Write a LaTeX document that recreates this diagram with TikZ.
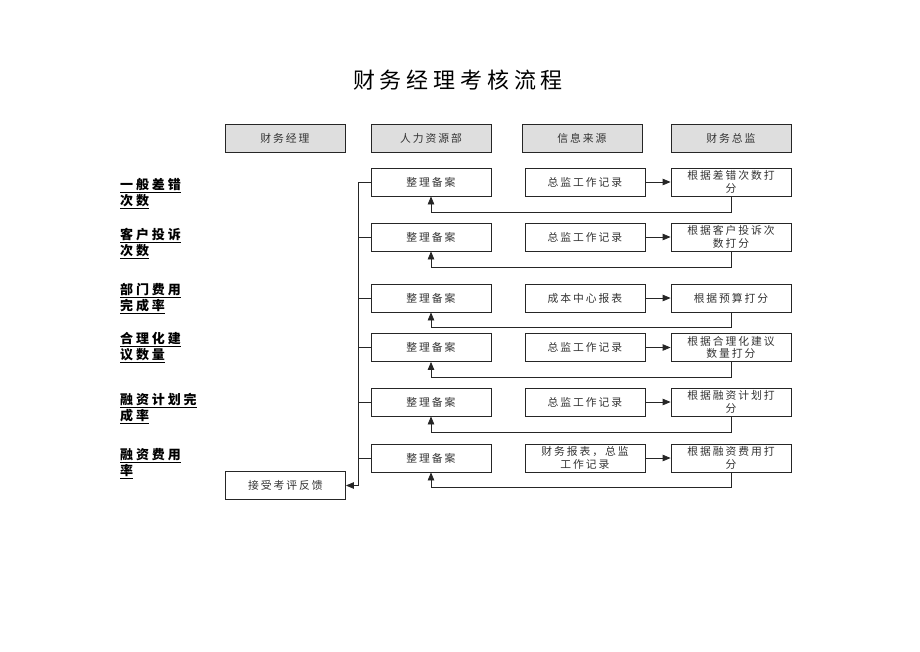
\documentclass[tikz,border=0pt]{standalone}
\usepackage{fontspec}
\usetikzlibrary{arrows.meta}
\setmainfont{Noto Sans CJK SC}[LetterSpace=18]
\newfontfamily\titlefont{Noto Sans CJK SC}[LetterSpace=22]
\newfontfamily\labelfont{Noto Sans CJK SC}[LetterSpace=22]
\begin{document}
\begin{tikzpicture}[x=1pt,y=-1pt,
  box/.style={draw=black!85,line width=0.8pt,minimum width=120pt,minimum height=28pt,inner sep=0pt,align=center,font=\fontsize{10.8}{12.5}\selectfont,text=black!80},
  head/.style={box,fill=black!13},
  lbl/.style={anchor=west,align=left,inner sep=0pt,font=\labelfont\bfseries\fontsize{13}{16}\selectfont},
  ln/.style={line width=0.8pt,black!85},
  arr/.style={ln,-{Triangle[length=8pt,width=6.5pt]}}]
\useasboundingbox (0,0) rectangle (920,651);
\node[font=\titlefont\fontsize{22}{24}\selectfont] (title) at (458,80) {财务经理考核流程};
% headers
\node[head] (h1) at (285,138) {财务经理};
\node[head] (h2) at (431,138) {人力资源部};
\node[head] (h3) at (582,138) {信息来源};
\node[head] (h4) at (731,138) {财务总监};
% rows
\foreach \i/\y/\src/\dst/\fy in {
  1/182/{总监工作记录}/{根据差错次数打\\分}/212,
  2/237/{总监工作记录}/{根据客户投诉次\\数打分}/267,
  3/298/{成本中心报表}/{根据预算打分}/327,
  4/347.5/{总监工作记录}/{根据合理化建议\\数量打分}/377,
  5/402/{总监工作记录}/{根据融资计划打\\分}/432,
  6/458/{财务报表，总监\\工作记录}/{根据融资费用打\\分}/487}{
  \node[box] (a\i) at (431,\y) {整理备案};
  \node[box] (b\i) at (585,\y) {\src};
  \node[box] (c\i) at (731,\y) {\dst};
  \draw[arr] (b\i.east) -- (c\i.west);
  \coordinate (f\i) at (731,\fy);
  \draw[arr] (c\i.south) -- (f\i) -| (a\i.south);
  \coordinate (s\i) at (358,\y);
  \draw[ln] (s\i) -- (a\i.west);
}
\node[box] (fb) at (285.5,485.5) {接受考评反馈};
\draw[ln] (s1) -- (358,485.5) coordinate (corner);
\draw[arr] (corner) -- (fb.east);
% left labels
\node[lbl] (l1) at (120,193.5) {\underline{一般差错}\\\underline{次数}};
\node[lbl] (l2) at (120,243.5) {\underline{客户投诉}\\\underline{次数}};
\node[lbl] (l3) at (120,298.5) {\underline{部门费用}\\\underline{完成率}};
\node[lbl] (l4) at (120,347.5) {\underline{合理化建}\\\underline{议数量}};
\node[lbl] (l5) at (120,408.5) {\underline{融资计划完}\\\underline{成率}};
\node[lbl] (l6) at (120,463.5) {\underline{融资费用}\\\underline{率}};
\end{tikzpicture}
\end{document}
